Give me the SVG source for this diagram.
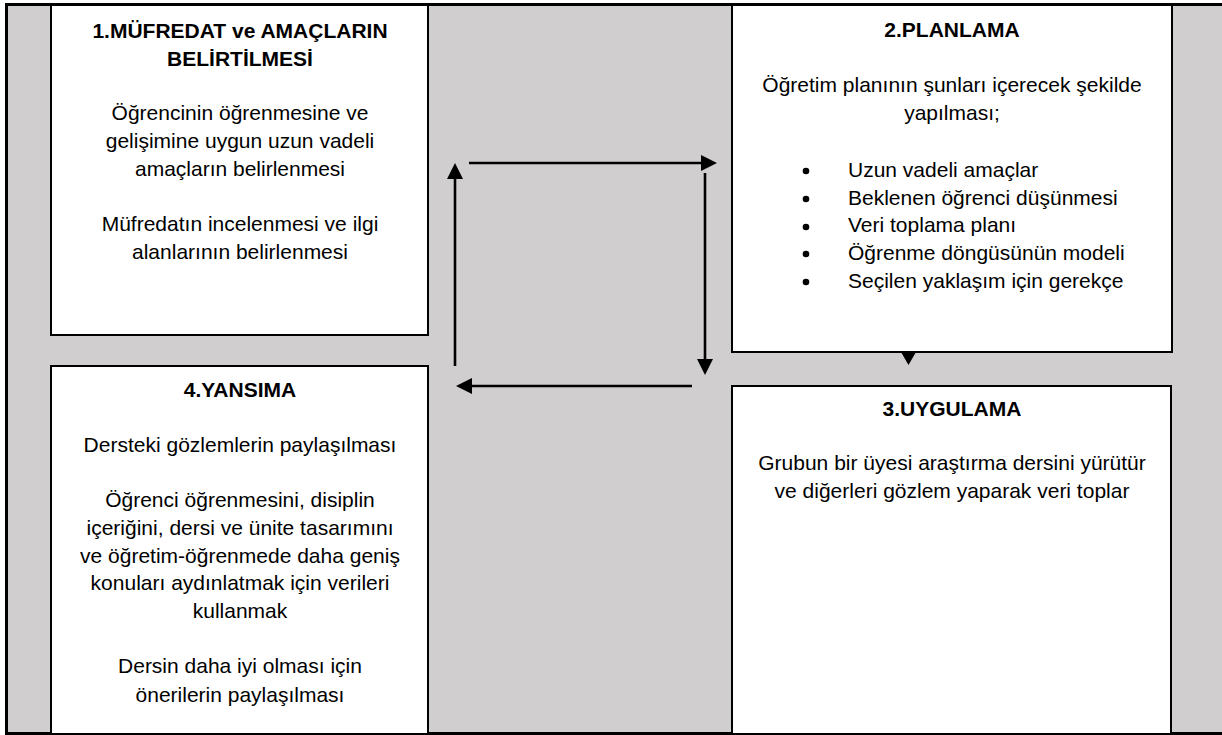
<svg xmlns="http://www.w3.org/2000/svg" width="1222" height="735" viewBox="0 0 1222 735">
<style>
.box{fill:#fff;stroke:#000;stroke-width:2}
text{font-family:"Liberation Sans",Arial,sans-serif;font-size:21px;fill:#000}
.t{font-weight:bold;text-anchor:middle}
.c{text-anchor:middle}
.ln{stroke:#000;stroke-width:2.6;fill:none}
</style>
<rect x="0" y="0" width="1222" height="735" fill="#fff"/>
<rect x="6.5" y="4.5" width="1225" height="729" fill="#d0cece" stroke="#000" stroke-width="3"/>

<g id="node1">
<rect class="box" x="51" y="5" width="377" height="330"/>
<text class="t" x="240" y="38">1.MÜFREDAT ve AMAÇLARIN</text>
<text class="t" x="240" y="66">BELİRTİLMESİ</text>
<text class="c" x="240" y="120">Öğrencinin öğrenmesine ve</text>
<text class="c" x="240" y="148">gelişimine uygun uzun vadeli</text>
<text class="c" x="240" y="176">amaçların belirlenmesi</text>
<text class="c" x="240" y="231">Müfredatın incelenmesi ve ilgi</text>
<text class="c" x="240" y="259">alanlarının belirlenmesi</text>
</g>

<g id="node2">
<rect class="box" x="732" y="5" width="440" height="347"/>
<text class="t" x="952" y="37">2.PLANLAMA</text>
<text class="c" x="952" y="92">Öğretim planının şunları içerecek şekilde</text>
<text class="c" x="952" y="120">yapılması;</text>
<g>
<circle cx="806" cy="171" r="3.3"/>
<circle cx="806" cy="199" r="3.3"/>
<circle cx="806" cy="227" r="3.3"/>
<circle cx="806" cy="254" r="3.3"/>
<circle cx="806" cy="282" r="3.3"/>
</g>
<text x="848" y="177">Uzun vadeli amaçlar</text>
<text x="848" y="205">Beklenen öğrenci düşünmesi</text>
<text x="848" y="232">Veri toplama planı</text>
<text x="848" y="260">Öğrenme döngüsünün modeli</text>
<text x="848" y="288">Seçilen yaklaşım için gerekçe</text>
</g>

<g id="node3">
<rect class="box" x="732" y="386" width="439" height="348"/>
<text class="t" x="952" y="416">3.UYGULAMA</text>
<text class="c" x="952" y="470">Grubun bir üyesi araştırma dersini yürütür</text>
<text class="c" x="952" y="498">ve diğerleri gözlem yaparak veri toplar</text>
</g>

<g id="node4">
<rect class="box" x="51" y="366" width="377" height="368"/>
<text class="t" x="240" y="397">4.YANSIMA</text>
<text class="c" x="240" y="452">Dersteki gözlemlerin paylaşılması</text>
<text class="c" x="240" y="507">Öğrenci öğrenmesini, disiplin</text>
<text class="c" x="240" y="535">içeriğini, dersi ve ünite tasarımını</text>
<text class="c" x="240" y="563">ve öğretim-öğrenmede daha geniş</text>
<text class="c" x="240" y="590">konuları aydınlatmak için verileri</text>
<text class="c" x="240" y="618">kullanmak</text>
<text class="c" x="240" y="673">Dersin daha iyi olması için</text>
<text class="c" x="240" y="702">önerilerin paylaşılması</text>
</g>

<g id="connectors">
<line class="ln" x1="469" y1="163" x2="703" y2="163"/>
<polygon points="701,155 717,163 701,171"/>
<line class="ln" x1="705" y1="173" x2="705" y2="361"/>
<polygon points="697,359 705,375 713,359"/>
<line class="ln" x1="692" y1="386" x2="470" y2="386"/>
<polygon points="472,378 456,386 472,394"/>
<line class="ln" x1="455" y1="366" x2="455" y2="177"/>
<polygon points="447,179 455,163 463,179"/>
<polygon points="901,352 916,352 908.5,365"/>
</g>
</svg>
